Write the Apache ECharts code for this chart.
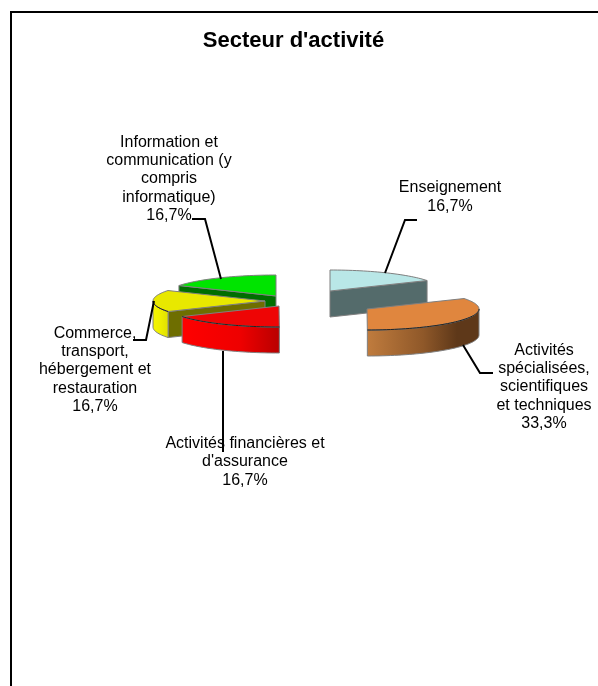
<!DOCTYPE html>
<html><head><meta charset="utf-8">
<style>html,body{margin:0;padding:0;background:#fff}#c{width:598px;height:686px}</style>
<script src="https://cdn.jsdelivr.net/npm/echarts@6/dist/echarts.min.js"></script>
</head><body><div id="c"></div>
<script>
const categories = ["Enseignement","Activités spécialisées, scientifiques et techniques","Activités financières et d'assurance","Commerce, transport, hébergement et restauration","Information et communication (y compris informatique)"];
const values = [16.7,33.3,16.7,16.7,16.7];
const labelLines = [
 "Enseignement",
 "Activités\nspécialisées,\nscientifiques\net techniques",
 "Activités financières et\nd'assurance",
 "Commerce,\ntransport,\nhébergement et\nrestauration",
 "Information et\ncommunication (y\ncompris\ninformatique)"];
const percentText = ["16,7%","33,3%","16,7%","16,7%","16,7%"];

// layout & style
const RX=112, RY=21, DEPTH=26;
const apex=[[330,291],[367,309],[279,306],[265,301],[276,296]];
const layer=[1,2,3,2,1];
const tops=["#b9e7e7","#e0863e","#ee0505","#e8e800","#00e400"];
const walls=["#546b6b",null,null,"#6e6e00","#006e00"];
const arcGrad=[null,
 [[0,"#c07c3e"],[.5,"#8f5829"],[.8,"#5e3819"],[1,"#5e3819"]],
 [[0,"#ff0000"],[.6,"#ee0000"],[1,"#b80000"]],
 [[0,"#f6f600"],[.5,"#eeee00"],[1,"#e0e000"]],
 null];
const labelPos=[[450,197],[544,387],[245,462],[95,370],[169,179]];
const leaders=[
 [[385,273],[405,220],[417,220]],
 [[463,345],[480,373],[493,373]],
 [[223,351],[223,452]],
 [[154,301],[146,340],[133,340]],
 [[221,279],[205,219],[192,219]]];

const total=values.reduce((a,b)=>a+b,0);
const pt=(c,deg,dy)=>{const r=deg*Math.PI/180;return [c[0]+RX*Math.sin(r),c[1]-RY*Math.cos(r)+(dy||0)]};
const arc=(c,a,b,dy)=>{const p=[],n=Math.max(2,Math.ceil(Math.abs(b-a)/2));for(let i=0;i<=n;i++)p.push(pt(c,a+(b-a)*i/n,dy));return p};
const stroke={stroke:"#7f7f7f",lineWidth:1};

function renderItem(params,api){
  const i=params.dataIndex;
  let cum=0;for(let k=0;k<i;k++)cum+=values[k];
  const a0=cum/total*360, a1=(cum+api.value(0))/total*360;
  const c=apex[i], z=layer[i]*10, ch=[];
  const poly=(pts,fill,zz)=>ch.push({type:'polygon',z2:z+zz,shape:{points:pts},style:Object.assign({fill},stroke)});
  // flat radial wall facing the viewer
  if(walls[i]){
    const a = a1<90 ? a1 : a0;
    const o=pt(c,a);
    poly([c,o,[o[0],o[1]+DEPTH],[c[0],c[1]+DEPTH]],walls[i],1);
  }
  // curved outer wall (lower half only)
  const w0=Math.max(a0,90), w1=Math.min(a1,270);
  if(w1>w0 && arcGrad[i]){
    const fill=new echarts.graphic.LinearGradient(0,0,1,0,arcGrad[i].map(s=>({offset:s[0],color:s[1]})));
    poly(arc(c,w0,w1).concat(arc(c,w1,w0,DEPTH)),fill,2);
  }
  // top face
  poly([c].concat(arc(c,a0,a1)),tops[i],3);
  if(w1>w0) ch.push({type:'polyline',z2:z+4,shape:{points:arc(c,w0,w1)},style:{stroke:"#222",lineWidth:1,fill:null}});
  // leader
  ch.push({type:'polyline',z2:100,shape:{points:leaders[i]},style:{stroke:"#000",lineWidth:2,fill:null}});
  // label
  ch.push({type:'text',z2:101,x:labelPos[i][0],y:labelPos[i][1],style:{
    text:labelLines[i]+"\n"+percentText[i],align:'center',verticalAlign:'middle',
    font:"16px 'Liberation Sans'",lineHeight:18.4,fill:"#000"}});
  return {type:'group',children:ch};
}

const chart=echarts.init(document.getElementById('c'),null,{renderer:'canvas'});
chart.setOption({
  animation:false,
  backgroundColor:'#fff',
  title:{text:"Secteur d'activité",left:288.5,top:25,textAlign:'center',
    textStyle:{fontFamily:'Liberation Sans',fontSize:22,fontWeight:'bold',color:'#000'}},
  graphic:[{type:'polyline',shape:{points:[[11,686],[11,12],[598,12]]},style:{stroke:'#000',lineWidth:2,fill:null}}],
  series:[{type:'custom',coordinateSystem:'none',renderItem,
    data:values.map((v,i)=>({name:categories[i],value:[v]}))}]
});
</script></body></html>
